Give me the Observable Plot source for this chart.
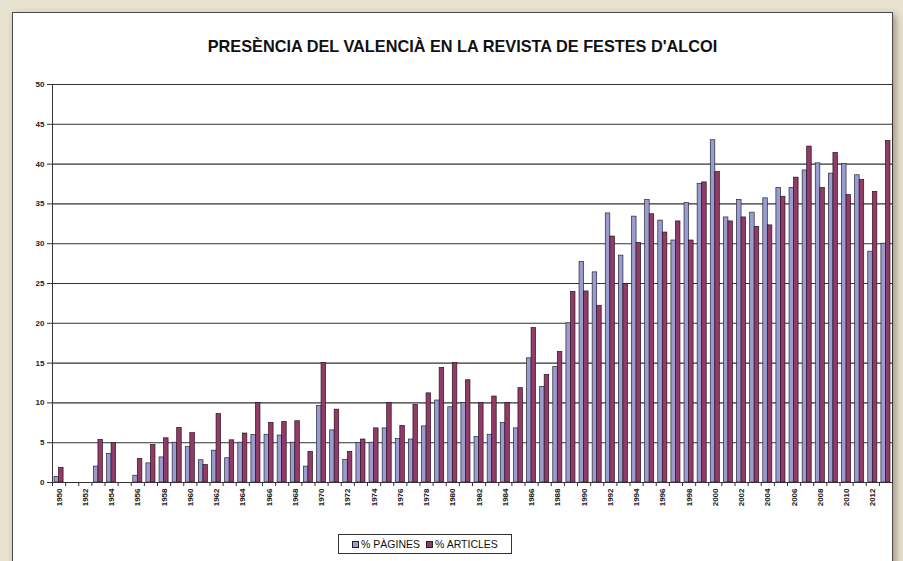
<!DOCTYPE html>
<html>
<head>
<meta charset="utf-8">
<script src="https://cdn.jsdelivr.net/npm/d3@7"></script>
<script src="https://cdn.jsdelivr.net/npm/@observablehq/plot@0.6"></script>
<style>
  html, body { margin: 0; padding: 0; }
  body {
    width: 903px; height: 561px; position: relative; overflow: hidden;
    background: #e8e2d1;
    font-family: "Liberation Sans", Arial, sans-serif;
  }
  #card {
    position: absolute; left: 12px; top: 12px; width: 879px; height: 570px;
    background: #fff; border: 1px solid #4a4a4a;
    box-shadow: 3px 3px 7px rgba(70, 55, 30, 0.45);
  }
  #title {
    position: absolute; left: 0; top: 37px; width: 925px;
    text-align: center; font-weight: bold; font-size: 16.3px; line-height: 19px;
    color: #111; white-space: nowrap;
  }
  #chart { position: absolute; left: 0; top: 70px; }
  #legend {
    position: absolute; left: 338px; top: 534px; width: 172px; height: 18px;
    border: 1px solid #333; background: #fff;
    display: flex; align-items: center; justify-content: center; gap: 6px;
    font-size: 10.5px; color: #111; white-space: nowrap;
  }
  #legend span { display: inline-flex; align-items: center; gap: 2px; }
  #legend i {
    display: inline-block; width: 5px; height: 5px; border: 1px solid #222;
  }
</style>
</head>
<body>
<div id="card"></div>
<div id="title">PRESÈNCIA DEL VALENCIÀ EN LA REVISTA DE FESTES D'ALCOI</div>
<div id="chart"></div>
<div id="legend"></div>
<script>
// Years of the festival magazine
const years = [
  1950, 1951, 1952, 1953, 1954, 1955, 1956, 1957, 1958, 1959,
  1960, 1961, 1962, 1963, 1964, 1965, 1966, 1967, 1968, 1969,
  1970, 1971, 1972, 1973, 1974, 1975, 1976, 1977, 1978, 1979,
  1980, 1981, 1982, 1983, 1984, 1985, 1986, 1987, 1988, 1989,
  1990, 1991, 1992, 1993, 1994, 1995, 1996, 1997, 1998, 1999,
  2000, 2001, 2002, 2003, 2004, 2005, 2006, 2007, 2008, 2009,
  2010, 2011, 2012, 2013
];

// % of pages written in Valencian
const pagines = [
  0.7, 0, 0, 2.0, 3.6, 0, 0.85, 2.4, 3.15, 5.0,
  4.45, 2.8, 4.0, 3.05, 5.0, 5.95, 6.0, 5.9, 5.0, 2.0,
  9.6, 6.55, 2.85, 4.95, 5.0, 6.8, 5.45, 5.4, 7.05, 10.3,
  9.45, 10.0, 5.7, 6.0, 7.5, 6.8, 15.6, 12.0, 14.5, 20.0,
  27.7, 26.4, 33.8, 28.5, 33.4, 35.5, 32.9, 30.4, 35.1, 37.5,
  43.0, 33.3, 35.5, 33.9, 35.7, 37.0, 37.0, 39.2, 40.1, 38.8,
  40.0, 38.6, 29.0, 30.0
];

// % of articles written in Valencian
const articles = [
  1.85, 0, 0, 5.35, 4.95, 0, 2.95, 4.7, 5.55, 6.85,
  6.2, 2.2, 8.6, 5.3, 6.15, 10.0, 7.5, 7.6, 7.7, 3.85,
  15.0, 9.15, 3.85, 5.4, 6.8, 10.0, 7.1, 9.75, 11.2, 14.4,
  15.0, 12.85, 10.0, 10.8, 10.0, 11.85, 19.4, 13.5, 16.4, 23.95,
  24.0, 22.2, 30.9, 24.95, 30.1, 33.7, 31.4, 32.8, 30.4, 37.7,
  39.0, 32.8, 33.3, 32.1, 32.3, 35.9, 38.3, 42.2, 37.0, 41.4,
  36.1, 38.0, 36.5, 42.9
];

const seriesNames = ["% PÀGINES", "% ARTICLES"];
const seriesColors = ["#9a9cd0", "#923a68"];
const yTicks = [0, 5, 10, 15, 20, 25, 30, 35, 40, 45, 50];
const yearLabels = years.filter(y => y % 2 === 0);

const rows = years.map((year, i) => ({year, pag: pagines[i], art: articles[i]}));

// Layout of the plotting area
const W = 903, H = 455;
const mLeft = 52, mRight = 11, mTop = 14, mBottom = 43;
const padInner = 0.31;
const step = (W - mLeft - mRight) / years.length;
const halfBand = step * (1 - padInner) / 2;

const chart = Plot.plot({
  width: W,
  height: H,
  marginLeft: mLeft,
  marginRight: mRight,
  marginTop: mTop,
  marginBottom: mBottom,
  style: {
    fontFamily: "'Liberation Sans', Arial, sans-serif",
    fontSize: "8px",
    fontWeight: "bold",
    background: "transparent",
    color: "#222"
  },
  x: {domain: years, paddingInner: padInner, paddingOuter: padInner / 2, round: false, label: null},
  y: {domain: [0, 50], label: null},
  marks: [
    Plot.gridY(yTicks, {stroke: "#333", strokeOpacity: 1, strokeWidth: 1.1}),
    Plot.barY(rows, {
      filter: d => d.pag > 0,
      x: "year", y: "pag",
      fill: seriesColors[0], stroke: "#262638", strokeWidth: 0.7,
      insetRight: halfBand
    }),
    Plot.barY(rows, {
      filter: d => d.art > 0,
      x: "year", y: "art",
      fill: seriesColors[1], stroke: "#2a1420", strokeWidth: 0.7,
      insetLeft: halfBand
    }),
    Plot.frame({stroke: "#333", strokeWidth: 1}),
    Plot.axisY(yTicks, {tickSize: 5, tickPadding: 3, stroke: "#333", label: null}),
    Plot.axisX(yearLabels, {tickRotate: -90, tickSize: 0, tickPadding: 6, tickFormat: d => String(d), label: null}),
    // small tick marks at the boundaries between years
    Plot.ruleX(years, {x: d => d, dx: -step / 2, y1: 0, y2: 0, insetBottom: -4, stroke: "#333"})
  ]
});
document.getElementById("chart").appendChild(chart);

// Legend
const legend = document.getElementById("legend");
seriesNames.forEach((name, i) => {
  const item = document.createElement("span");
  const sw = document.createElement("i");
  sw.style.background = seriesColors[i];
  item.appendChild(sw);
  item.appendChild(document.createTextNode(name));
  legend.appendChild(item);
});
</script>
</body>
</html>
